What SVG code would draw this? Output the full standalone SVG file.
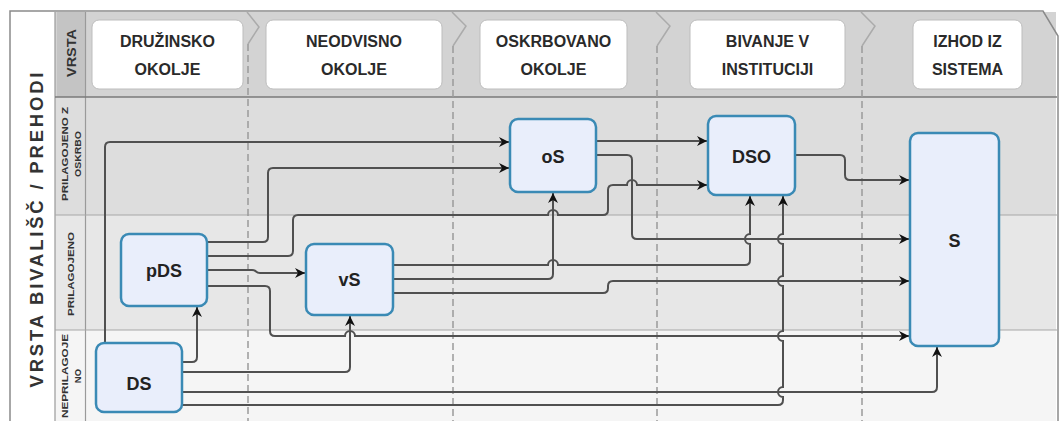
<svg xmlns="http://www.w3.org/2000/svg" width="1060" height="421" viewBox="0 0 1060 421">
<defs>
<marker id="ah" viewBox="0 0 10 10" refX="10" refY="5" markerWidth="10" markerHeight="10" orient="auto" markerUnits="userSpaceOnUse">
<path d="M0,0 L10,5 L0,10 L3,5 z" fill="#111"/>
</marker>
<style>
.node rect{fill:#e9eefb;stroke:#3a8ab5;stroke-width:2.5}
.node text{font-family:"Liberation Sans",Arial,sans-serif;font-weight:bold;font-size:18px;fill:#222;text-anchor:middle}
.hdr rect{fill:#ffffff;stroke:#bdbdbd;stroke-width:1}
.hdr text{font-family:"Liberation Sans",Arial,sans-serif;font-weight:bold;font-size:16px;fill:#2a2a2a;text-anchor:middle}
.lbl{font-family:"Liberation Sans",Arial,sans-serif;font-weight:bold;font-size:9.5px;fill:#333;text-anchor:middle}
.lbl.big{font-size:12.5px}
.dash{stroke:#9a9a9a;stroke-width:1.5;stroke-dasharray:7 4;fill:none}
.conn path{fill:none;stroke:#505050;stroke-width:2;marker-end:url(#ah)}
</style>
</defs>
<g id="background">
<rect x="0" y="0" width="1060" height="421" fill="#ffffff"/>
<rect x="12" y="12" width="1044" height="85" fill="#d3d3d3"/>
<rect x="12" y="97" width="1044" height="118" fill="#dddddd"/>
<rect x="12" y="215" width="1044" height="115" fill="#e7e7e7"/>
<rect x="12" y="330" width="1044" height="91" fill="#f5f5f5"/>
<rect x="57" y="12" width="28" height="85" fill="#c4c4c4"/>
<rect x="12" y="12" width="43" height="409" fill="#ffffff"/>
<path d="M10,421 V11 H1043 L1058,36 V421" fill="none" stroke="#8a8a8a" stroke-width="1.5"/>
<line x1="55" y1="12" x2="55" y2="421" stroke="#9a9a9a" stroke-width="1.2"/>
<line x1="85.5" y1="12" x2="85.5" y2="421" stroke="#9a9a9a" stroke-width="1.2"/>
<line x1="55" y1="97" x2="1057" y2="97" stroke="#7a7a7a" stroke-width="1.5"/>
<line x1="55" y1="215" x2="1057" y2="215" stroke="#a8a8a8" stroke-width="1.2"/>
<line x1="55" y1="330" x2="1057" y2="330" stroke="#a8a8a8" stroke-width="1.2"/>
<polyline points="247,12 259,27 248,44" fill="none" stroke="#ababab" stroke-width="1.5"/>
<polyline points="452,12 466,26 453,46" fill="none" stroke="#ababab" stroke-width="1.5"/>
<polyline points="656,12 670,26 657,46" fill="none" stroke="#ababab" stroke-width="1.5"/>
<polyline points="861,12 875,26 862,46" fill="none" stroke="#ababab" stroke-width="1.5"/>
<line class="dash" x1="248" y1="44" x2="248" y2="421"/>
<line class="dash" x1="453" y1="46" x2="453" y2="421"/>
<line class="dash" x1="657" y1="46" x2="657" y2="421"/>
<line class="dash" x1="862" y1="46" x2="862" y2="421"/>
</g>
<g id="title">
<text transform="translate(43,230) rotate(-90)" font-family="Liberation Sans,Arial,sans-serif" font-weight="bold" font-size="18.5" fill="#333" text-anchor="middle" textLength="315" lengthAdjust="spacing">VRSTA BIVALIŠČ / PREHODI</text>
</g>
<g id="row-labels">
<text class="lbl big" transform="translate(76,53) rotate(-90)" textLength="48" lengthAdjust="spacingAndGlyphs">VRSTA</text>
<text class="lbl" transform="translate(67.5,154) rotate(-90)" textLength="94" lengthAdjust="spacingAndGlyphs">PRILAGOJENO Z</text>
<text class="lbl" transform="translate(80.5,154) rotate(-90)" textLength="46" lengthAdjust="spacingAndGlyphs">OSKRBO</text>
<text class="lbl" transform="translate(74,274) rotate(-90)" textLength="84" lengthAdjust="spacingAndGlyphs">PRILAGOJENO</text>
<text class="lbl" transform="translate(67.5,376) rotate(-90)" textLength="84" lengthAdjust="spacingAndGlyphs">NEPRILAGOJE</text>
<text class="lbl" transform="translate(80.5,376) rotate(-90)">NO</text>
</g>
<g id="hdr-druzinsko" class="hdr"><rect x="92" y="20" width="151" height="69" rx="7"/><text x="167.5" y="47">DRUŽINSKO</text><text x="167.5" y="75">OKOLJE</text></g>
<g id="hdr-neodvisno" class="hdr"><rect x="266" y="20" width="176" height="69" rx="7"/><text x="354" y="47">NEODVISNO</text><text x="354" y="75">OKOLJE</text></g>
<g id="hdr-oskrbovano" class="hdr"><rect x="480" y="20" width="147" height="69" rx="7"/><text x="553.5" y="47">OSKRBOVANO</text><text x="553.5" y="75">OKOLJE</text></g>
<g id="hdr-bivanje" class="hdr"><rect x="690" y="20" width="155" height="69" rx="7"/><text x="767.5" y="47">BIVANJE V</text><text x="767.5" y="75">INSTITUCIJI</text></g>
<g id="hdr-izhod" class="hdr"><rect x="913" y="20" width="109" height="69" rx="7"/><text x="967.5" y="47">IZHOD IZ</text><text x="967.5" y="75">SISTEMA</text></g>
<g id="connectors" class="conn">
<path d="M182,362 H192 Q197,362 197,357 V307"/>
<path d="M182,372 H345 Q350,372 350,367 V316"/>
<path d="M182,392 H932 Q937,392 937,387 V347"/>
<path d="M182,405 H778 Q783,405 783,400 V397 A5,5 0 0 1 783,387 V341 A5,5 0 0 1 783,331 V286 A5,5 0 0 1 783,276 V244 A5,5 0 0 1 783,234 V196"/>
<path d="M105,343 V147 Q105,142 110,142 H509"/>
<path d="M207,242 H263 Q268,242 268,237 V173 Q268,168 273,168 H509"/>
<path d="M207,256 H288 Q293,256 293,251 V220 Q293,215 298,215 H548 A5,5 0 0 1 558,215 H603 Q608,215 608,210 V190 Q608,185 613,185 H627 A5,5 0 0 1 637,185 H707"/>
<path d="M207,270 H252 C257,270 255,273 260,273 H305"/>
<path d="M207,286 H265 Q270,286 270,291 V331 Q270,336 275,336 H345 A5,5 0 0 1 355,336 H909"/>
<path d="M393,265 H548 A5,5 0 0 1 558,265 H745 Q750,265 750,260 V244 A5,5 0 0 1 750,234 V196"/>
<path d="M393,279 H548 Q553,279 553,274 V193"/>
<path d="M393,293 H603 Q608,293 608,288 V286 Q608,281 613,281 H909"/>
<path d="M596,141 H707"/>
<path d="M596,155 H627 Q632,155 632,160 V234 Q632,239 637,239 H909"/>
<path d="M795,155 H840 Q845,155 845,160 V175 Q845,180 850,180 H909"/>
</g>
<g id="node-DS" class="node"><rect x="96" y="343" width="86" height="69" rx="8"/><text x="139" y="390">DS</text></g>
<g id="node-pDS" class="node"><rect x="121" y="234" width="86" height="72" rx="8"/><text x="164" y="277">pDS</text></g>
<g id="node-vS" class="node"><rect x="306" y="244" width="87" height="71" rx="8"/><text x="349.5" y="286">vS</text></g>
<g id="node-oS" class="node"><rect x="510" y="119" width="86" height="73" rx="8"/><text x="553" y="163">oS</text></g>
<g id="node-DSO" class="node"><rect x="708" y="116" width="87" height="79" rx="8"/><text x="751.5" y="163">DSO</text></g>
<g id="node-S" class="node"><rect x="910" y="133" width="89" height="213" rx="8"/><text x="954.5" y="247">S</text></g>
</svg>
